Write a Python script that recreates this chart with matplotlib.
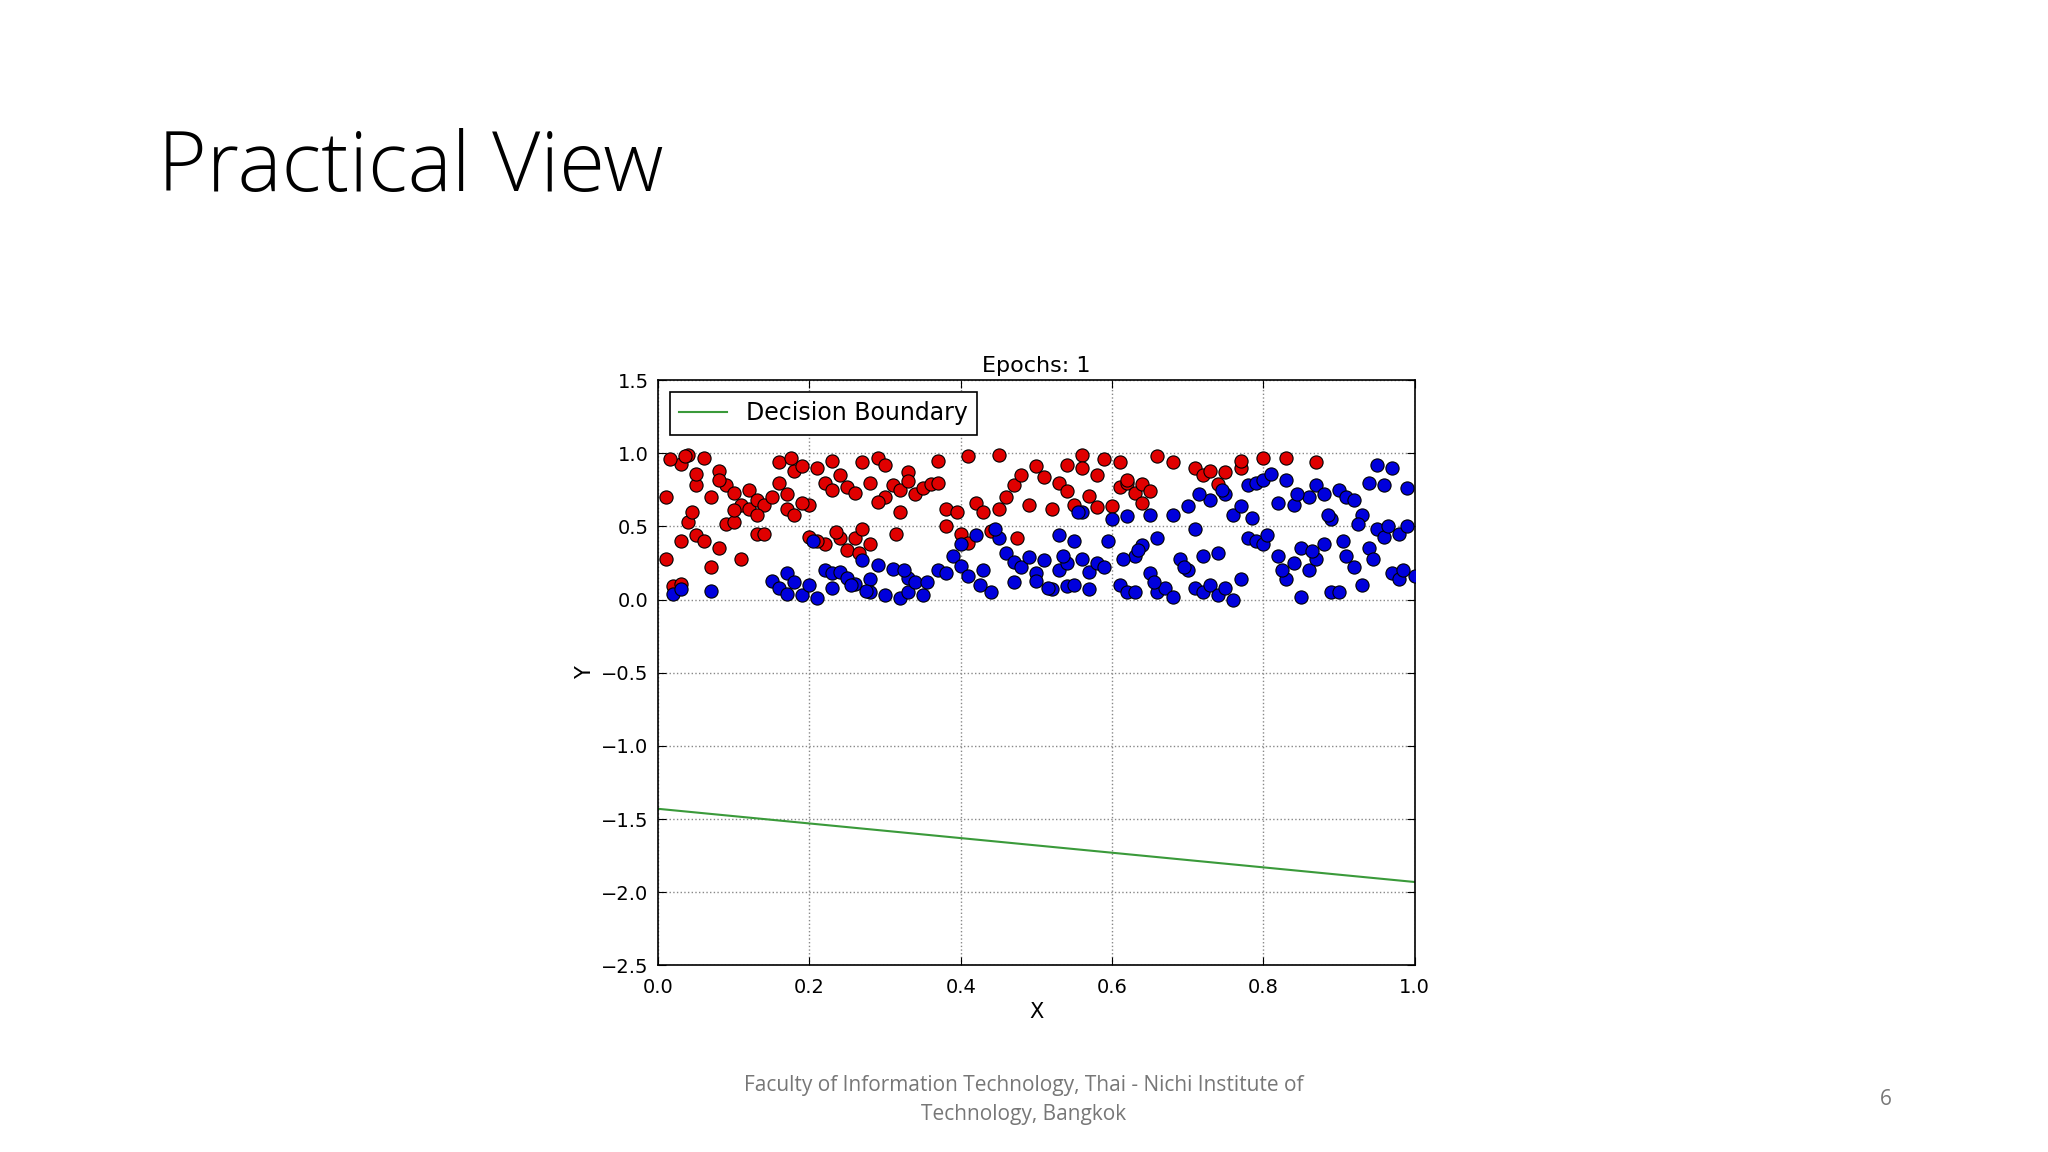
import matplotlib.pyplot as plt

# red class points (x, y)
red_x = [0.01, 0.01, 0.03, 0.03, 0.04, 0.04, 0.05, 0.05, 0.06, 0.06, 0.07, 0.07, 0.08, 0.08, 0.09,
         0.09, 0.10, 0.10, 0.11, 0.11, 0.12, 0.12, 0.13, 0.13, 0.14, 0.14, 0.15, 0.16, 0.16, 0.17,
         0.17, 0.18, 0.18, 0.19, 0.20, 0.20, 0.21, 0.22, 0.22, 0.23, 0.23, 0.24, 0.24, 0.25, 0.25,
         0.26, 0.26, 0.27, 0.27, 0.28, 0.28, 0.29, 0.30, 0.30, 0.31, 0.32, 0.32, 0.33, 0.34, 0.35,
         0.36, 0.37, 0.38, 0.38, 0.40, 0.41, 0.42, 0.43, 0.44, 0.45, 0.45, 0.46, 0.47, 0.48, 0.49,
         0.50, 0.51, 0.52, 0.53, 0.54, 0.54, 0.55, 0.56, 0.57, 0.58, 0.58, 0.59, 0.60, 0.61, 0.62,
         0.63, 0.64, 0.64, 0.65, 0.66, 0.68, 0.71, 0.72, 0.73, 0.74, 0.75, 0.77, 0.77, 0.80, 0.83,
         0.87, 0.02, 0.03, 0.05, 0.08, 0.10, 0.13, 0.19, 0.21, 0.29, 0.33, 0.37, 0.41, 0.56, 0.61,
         0.62, 0.035, 0.015, 0.045, 0.175, 0.235, 0.265, 0.315, 0.395, 0.475]
red_y = [0.70, 0.28, 0.93, 0.40, 0.99, 0.53, 0.78, 0.44, 0.97, 0.40, 0.70, 0.22, 0.88, 0.35, 0.78,
         0.52, 0.73, 0.53, 0.65, 0.28, 0.75, 0.62, 0.68, 0.45, 0.65, 0.45, 0.70, 0.94, 0.80, 0.72,
         0.62, 0.88, 0.58, 0.91, 0.65, 0.43, 0.90, 0.80, 0.38, 0.95, 0.75, 0.85, 0.42, 0.77, 0.34,
         0.73, 0.42, 0.94, 0.48, 0.80, 0.38, 0.97, 0.92, 0.70, 0.78, 0.75, 0.60, 0.87, 0.72, 0.76,
         0.79, 0.95, 0.50, 0.62, 0.45, 0.98, 0.66, 0.60, 0.47, 0.99, 0.62, 0.70, 0.78, 0.85, 0.65,
         0.91, 0.84, 0.62, 0.80, 0.92, 0.74, 0.65, 0.99, 0.71, 0.85, 0.63, 0.96, 0.64, 0.77, 0.80,
         0.73, 0.79, 0.66, 0.74, 0.98, 0.94, 0.90, 0.85, 0.88, 0.79, 0.87, 0.90, 0.95, 0.97, 0.97,
         0.94, 0.09, 0.11, 0.86, 0.82, 0.61, 0.58, 0.66, 0.40, 0.67, 0.81, 0.80, 0.39, 0.90, 0.94,
         0.82, 0.98, 0.96, 0.60, 0.97, 0.46, 0.32, 0.45, 0.60, 0.42]

# blue class points
blue_x = [0.02, 0.03, 0.07, 0.15, 0.16, 0.17, 0.17, 0.18, 0.19, 0.20, 0.21, 0.22, 0.23, 0.23, 0.24,
          0.25, 0.26, 0.27, 0.28, 0.28, 0.29, 0.30, 0.31, 0.32, 0.33, 0.33, 0.34, 0.35, 0.37, 0.38,
          0.39, 0.40, 0.40, 0.41, 0.42, 0.43, 0.44, 0.45, 0.46, 0.47, 0.47, 0.48, 0.49, 0.50, 0.50,
          0.51, 0.52, 0.53, 0.53, 0.54, 0.54, 0.55, 0.55, 0.56, 0.56, 0.57, 0.57, 0.58, 0.59, 0.60,
          0.61, 0.62, 0.62, 0.63, 0.63, 0.64, 0.65, 0.65, 0.66, 0.66, 0.67, 0.68, 0.68, 0.69, 0.70,
          0.70, 0.71, 0.71, 0.72, 0.72, 0.73, 0.73, 0.74, 0.74, 0.75, 0.75, 0.76, 0.76, 0.77, 0.77,
          0.78, 0.78, 0.79, 0.79, 0.80, 0.80, 0.81, 0.82, 0.82, 0.83, 0.83, 0.84, 0.84, 0.85, 0.85,
          0.86, 0.86, 0.87, 0.87, 0.88, 0.88, 0.89, 0.89, 0.90, 0.90, 0.91, 0.91, 0.92, 0.92, 0.93,
          0.93, 0.94, 0.94, 0.95, 0.95, 0.96, 0.96, 0.97, 0.97, 0.98, 0.98, 0.99, 0.99, 1.00, 0.985,
          0.965, 0.945, 0.925, 0.905, 0.885, 0.865, 0.845, 0.825, 0.805, 0.785, 0.635, 0.655, 0.695,
          0.595, 0.615,
          0.715, 0.745, 0.555, 0.535, 0.515, 0.445, 0.425, 0.355, 0.325, 0.275, 0.255, 0.205]
blue_y = [0.04, 0.07, 0.06, 0.13, 0.08, 0.18, 0.04, 0.12, 0.03, 0.10, 0.01, 0.20, 0.18, 0.08, 0.19,
          0.15, 0.11, 0.27, 0.14, 0.05, 0.24, 0.03, 0.21, 0.01, 0.15, 0.05, 0.12, 0.03, 0.20, 0.18,
          0.30, 0.38, 0.23, 0.16, 0.44, 0.20, 0.05, 0.42, 0.32, 0.26, 0.12, 0.22, 0.29, 0.18, 0.13,
          0.27, 0.07, 0.44, 0.20, 0.25, 0.09, 0.40, 0.10, 0.28, 0.60, 0.19, 0.07, 0.25, 0.22, 0.55,
          0.10, 0.57, 0.05, 0.30, 0.05, 0.37, 0.58, 0.18, 0.05, 0.42, 0.08, 0.58, 0.02, 0.28, 0.64,
          0.20, 0.48, 0.08, 0.30, 0.05, 0.68, 0.10, 0.03, 0.32, 0.72, 0.08, 0.58, 0.00, 0.64, 0.14,
          0.78, 0.42, 0.80, 0.40, 0.38, 0.82, 0.86, 0.66, 0.30, 0.14, 0.82, 0.25, 0.65, 0.02, 0.35,
          0.70, 0.20, 0.78, 0.28, 0.72, 0.38, 0.55, 0.05, 0.75, 0.05, 0.70, 0.30, 0.68, 0.22, 0.58,
          0.10, 0.80, 0.35, 0.92, 0.48, 0.78, 0.43, 0.90, 0.18, 0.45, 0.14, 0.50, 0.76, 0.16, 0.20,
          0.50, 0.28, 0.52, 0.40, 0.58, 0.33, 0.72, 0.20, 0.44, 0.56, 0.34, 0.12, 0.22, 0.40, 0.28,
          0.72, 0.75, 0.60, 0.30, 0.08, 0.48, 0.10, 0.12, 0.20, 0.06, 0.10, 0.40]

# decision boundary endpoints
line_x = [0.0, 1.0]
line_y = [-1.43, -1.93]

fig = plt.figure(figsize=(20.48, 11.52), dpi=100)
fig.text(0.077, 0.853, "Practical View", fontsize=60, family="Open Sans",
         fontweight="light", va="center", ha="left")
fig.text(0.5, 0.045, "Faculty of Information Technology, Thai - Nichi Institute of\nTechnology, Bangkok",
         fontsize=15, color="#777777", ha="center", va="center", family="Open Sans", linespacing=1.5)
fig.text(0.921, 0.046, "6", fontsize=15, color="#777777", ha="center", va="center", family="Open Sans")

ax = fig.add_axes([0.3214, 0.162, 0.3693, 0.508])
ax.scatter(red_x, red_y, s=90, c="#e00000", edgecolors="black", linewidths=0.8, zorder=3)
ax.scatter(blue_x, blue_y, s=90, c="#0000dd", edgecolors="black", linewidths=0.8, zorder=3)
ax.plot(line_x, line_y, color="#3a9a3a", lw=1.5, label="Decision Boundary")
ax.set_xlim(0, 1)
ax.set_ylim(-2.5, 1.5)
ax.set_xticks([0.0, 0.2, 0.4, 0.6, 0.8, 1.0])
ax.set_yticks([-2.5, -2.0, -1.5, -1.0, -0.5, 0.0, 0.5, 1.0, 1.5])
ax.grid(True, linestyle=":", color="#888888", lw=1)
ax.tick_params(labelsize=14, direction="in", length=6, top=True, right=True)
ax.tick_params(axis="x", pad=9)
ax.tick_params(axis="y", pad=7)
ax.set_xlabel("X", fontsize=15)
ax.set_ylabel("Y", fontsize=15)
ax.set_title("Epochs: 1", fontsize=16)
for s in ax.spines.values():
    s.set_linewidth(1.2)
leg = ax.legend(loc="upper left", fontsize=17, fancybox=False, framealpha=1,
                edgecolor="black", handlelength=2)
leg.get_frame().set_linewidth(1.2)

fig.savefig("out.png", dpi=100)
